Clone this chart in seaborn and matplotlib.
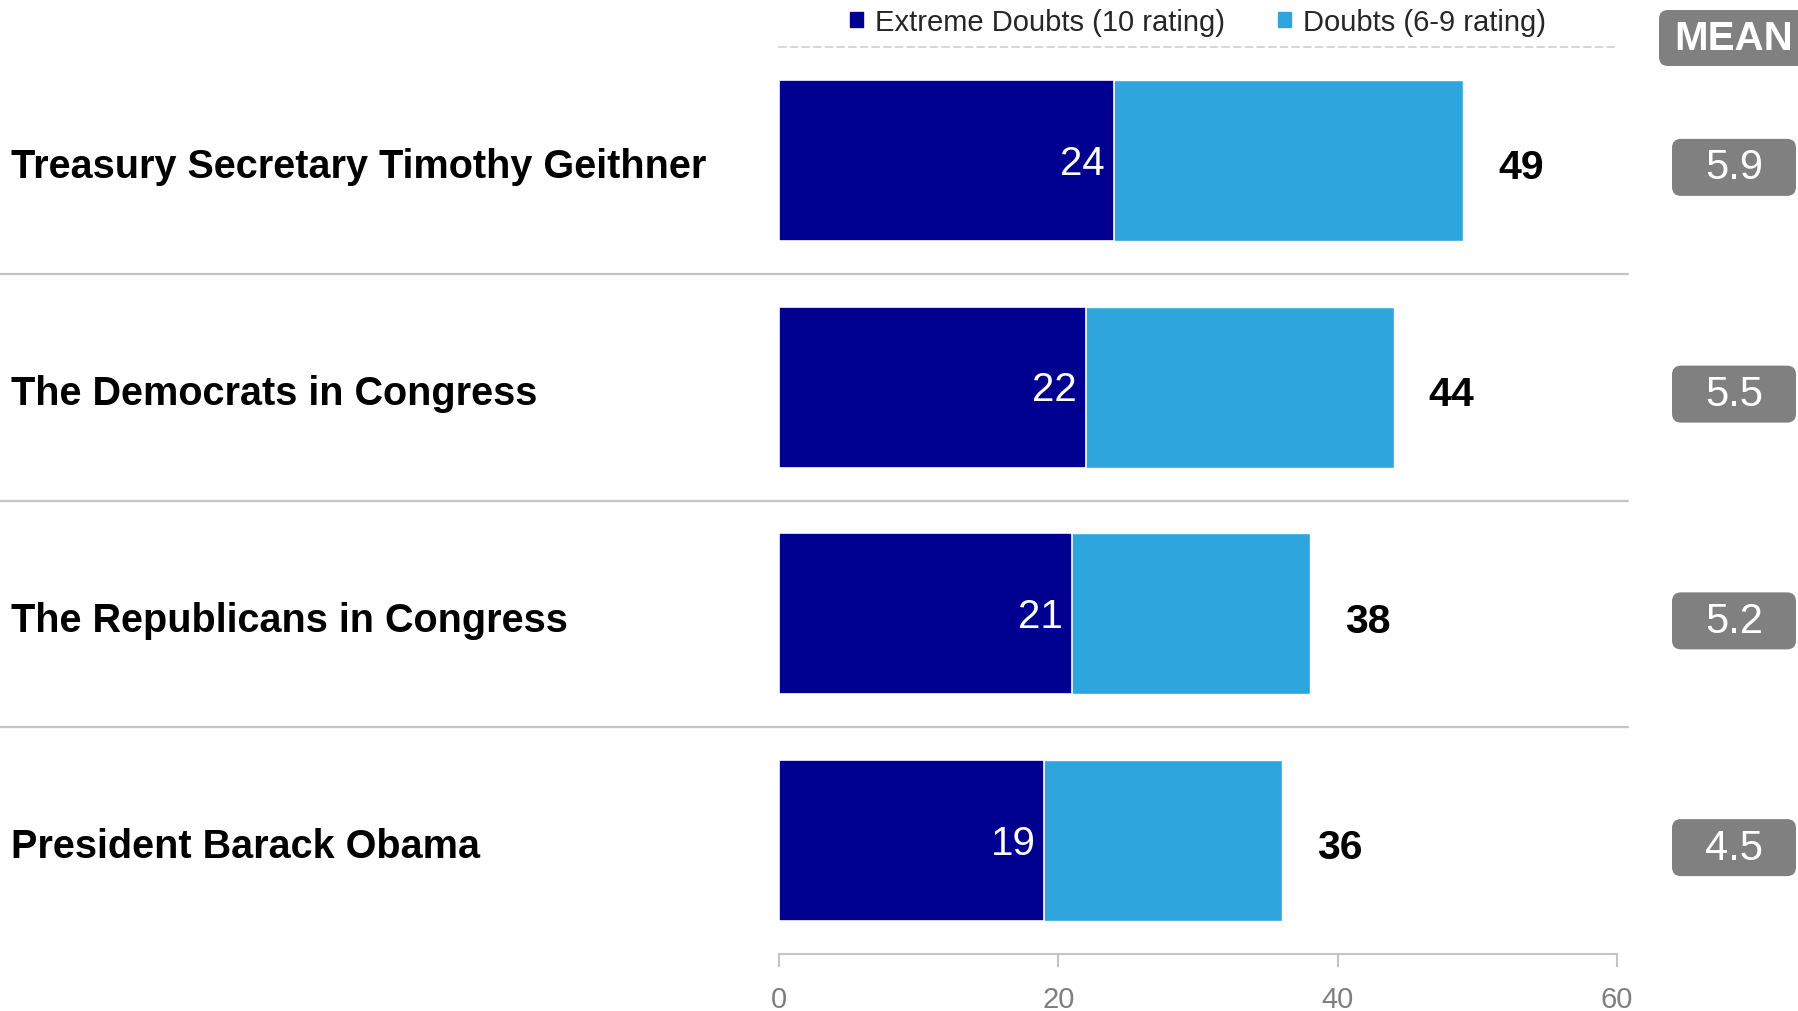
#!/usr/bin/env python3
"""Doubts about economic leaders - stacked horizontal bars with mean boxes."""

import pandas as pd
import numpy as np
import seaborn as sns
import matplotlib.pyplot as plt
from matplotlib.patches import Patch, FancyBboxPatch
from matplotlib import transforms

# Data
categories = [
    'Treasury Secretary Timothy Geithner',
    'The Democrats in Congress',
    'The Republicans in Congress',
    'President Barack Obama',
]
extreme_doubts = [24, 22, 21, 19]   # 10 rating
total_doubts = [49, 44, 38, 36]     # 6-10 rating
mean_scores = [5.9, 5.5, 5.2, 4.5]
x_ticks = [0, 20, 40, 60]

DARK = '#000090'
LIGHT = '#2EA6DD'
GREY_BOX = '#808080'
LINE_GREY = '#C4C4C4'

sns.set_theme(style='white')
plt.rcParams['font.family'] = ['Liberation Sans', 'DejaVu Sans']

df = pd.DataFrame({
    'category': categories,
    'extreme': extreme_doubts,
    'total': total_doubts,
    'mean': mean_scores,
})

fig = plt.figure(figsize=(17.98, 10.12), dpi=100)
ax = fig.add_axes([779 / 1798, 1 - 955 / 1012, 838 / 1798, 907 / 1012])

# stacked bars: full total in light blue, extreme part in dark blue on top
sns.barplot(data=df, x='total', y='category', color=LIGHT, width=0.71,
            orient='h', ax=ax, saturation=1)
sns.barplot(data=df, x='extreme', y='category', color=DARK, width=0.71,
            orient='h', ax=ax, saturation=1, edgecolor='white', linewidth=1.2)

ax.set_xlim(0, 60)
ax.set_ylim(3.5, -0.5)
ax.set_xticks(x_ticks)
ax.set_xticklabels([str(t) for t in x_ticks])
ax.set_yticks([])
ax.set_xlabel('')
ax.set_ylabel('')

for side in ['left', 'right']:
    ax.spines[side].set_visible(False)
ax.spines['bottom'].set_color(LINE_GREY)
ax.spines['bottom'].set_linewidth(1.5)
ax.spines['top'].set_color('#CFCFCF')
ax.spines['top'].set_linewidth(1.2)
ax.spines['top'].set_linestyle((0, (4, 3)))

ax.tick_params(axis='x', bottom=True, length=9, width=1.5, color=LINE_GREY,
               pad=13, labelsize=21, labelcolor='#7F7F7F', direction='out')

# row separators running under the labels too
for i in range(len(categories) - 1):
    ax.axhline(i + 0.5, xmin=-779 / 838, xmax=(1628 - 779) / 838,
               color=LINE_GREY, linewidth=1.6, clip_on=False, zorder=0)

# category labels at the far left
label_tr = transforms.blended_transform_factory(fig.transFigure, ax.transData)
for i, cat in enumerate(categories):
    ax.text(11 / 1798, i + 0.025, cat, transform=label_tr, ha='left', va='center',
            fontsize=28.5, fontweight='bold', color='black')

# values inside and beside the bars
for i, (ext, tot) in enumerate(zip(extreme_doubts, total_doubts)):
    ax.text(ext - 0.65, i + 0.01, f'{ext}', ha='right', va='center',
            fontsize=29, color='white')
    ax.text(tot + 2.5, i + 0.03, f'{tot}', ha='left', va='center',
            fontsize=29.5, fontweight='bold', color='black')

# legend on top
handles = [Patch(color=DARK, label='Extreme Doubts (10 rating)'),
           Patch(color=LIGHT, label='Doubts (6-9 rating)')]
ax.legend(handles=handles, loc='center', bbox_to_anchor=(0.5, 1.0276), ncol=2,
          frameon=False, fontsize=21, handlelength=0.45, handleheight=0.45,
          handletextpad=0.43, columnspacing=1.8, borderpad=0, borderaxespad=0)

# MEAN header and mean boxes on the right (positions in pixels / inches)
dpi = fig.dpi
fig_h_in = fig.get_size_inches()[1]


def grey_box(x_px, y_center_px, w_px, h_px, text, **kw):
    box = FancyBboxPatch((x_px / dpi, (y_center_px - h_px / 2) / dpi),
                         w_px / dpi, h_px / dpi,
                         boxstyle='round,pad=0,rounding_size=0.09',
                         transform=fig.dpi_scale_trans, facecolor=GREY_BOX,
                         edgecolor='none', clip_on=False)
    fig.patches.append(box)
    fig.text(1734 / 1798, y_center_px / (fig_h_in * dpi), text, ha='center',
             va='center', color='white', **kw)


grey_box(1659, (1012 - 39), 170, 56, 'MEAN', fontsize=29, fontweight='bold')

fig.canvas.draw()
for i, m in enumerate(mean_scores):
    y_px = ax.transData.transform((0, i))[1] - 7
    grey_box(1672, y_px, 124, 57, f'{m}', fontsize=30)

fig.savefig('out.png', dpi=100)
